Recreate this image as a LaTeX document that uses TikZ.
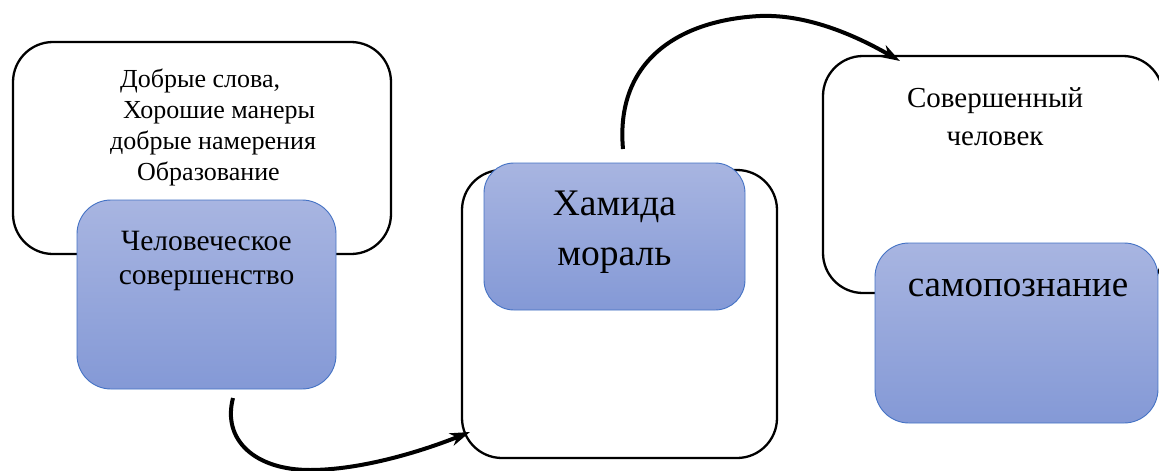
\documentclass[tikz,border=0pt]{standalone}
\usepackage{fontspec}
\setmainfont{Liberation Serif}
\usetikzlibrary{arrows.meta}
\definecolor{bluetop}{RGB}{168,181,225}
\definecolor{bluebot}{RGB}{132,153,214}
\definecolor{blueedge}{RGB}{68,114,196}
\tikzset{
  outlinebox/.style={draw=black, line width=2.3pt, rounded corners=40pt, fill=white, inner sep=0pt},
  bluebox/.style={draw=blueedge, line width=0.9pt, rounded corners=34pt, top color=bluetop, bottom color=bluebot, inner sep=0pt},
  flowarrow/.style={line width=4pt, -{Stealth[length=20pt,width=13pt,inset=6pt]}},
  txt/.style={inner sep=0pt, align=left}
}
\begin{document}
\begin{tikzpicture}[x=1pt,y=-1pt]
\useasboundingbox (0,0) rectangle (1159,471);
% outline boxes
\node[outlinebox, minimum width=378pt, minimum height=212pt] (o1) at (202,148) {};
\node[outlinebox, minimum width=315pt, minimum height=288pt] (o2) at (619.5,314) {};
\node[outlinebox, minimum width=340pt, minimum height=237pt] (o3) at (993,174.5) {};
% blue boxes
\node[bluebox, minimum width=259pt, minimum height=189pt] (b1) at (206.5,294.5) {};
\node[bluebox, rounded corners=30pt, minimum width=261pt, minimum height=147pt] (b2) at (614.5,236.5) {};
\node[bluebox, minimum width=283pt, minimum height=180pt] (b3) at (1016.5,333) {};
% texts (base anchor = baseline of the last line)
\node[txt, anchor=base west, font=\fontsize{26}{30.7}\selectfont] (t1) at (110,180)
  {\hspace*{10pt}Добрые слова,\\\hspace*{13pt}Хорошие манеры\\добрые намерения\\\hspace*{27pt}Образование};
\node[txt, align=center, anchor=base, font=\fontsize{29.5}{34}\selectfont] (t2) at (206.5,284)
  {Человеческое\\совершенство};
\node[txt, align=center, anchor=base, font=\fontsize{37.5}{50}\selectfont] (t3) at (614.5,265)
  {Хамида\\мораль};
\node[txt, align=center, anchor=base, font=\fontsize{29}{38}\selectfont] (t4) at (995,145)
  {Совершенный\\человек};
\node[txt, anchor=base, font=\fontsize{37}{44}\selectfont] (t5) at (1018,296) {самопознание};
% connectors
\coordinate (a1s) at (233,398);
\coordinate (a1e) at (470,432);
\coordinate (a2s) at (623,149);
\coordinate (a2e) at (900,61);
\draw[flowarrow] (a1s) .. controls (222,440) and (255,470) .. (310,470) .. controls (360,470) and (420,452) .. (a1e);
\draw[flowarrow] (a2s) .. controls (615,60) and (680,20) .. (760,16) .. controls (810,14) and (860,38) .. (a2e);
\end{tikzpicture}
\end{document}
